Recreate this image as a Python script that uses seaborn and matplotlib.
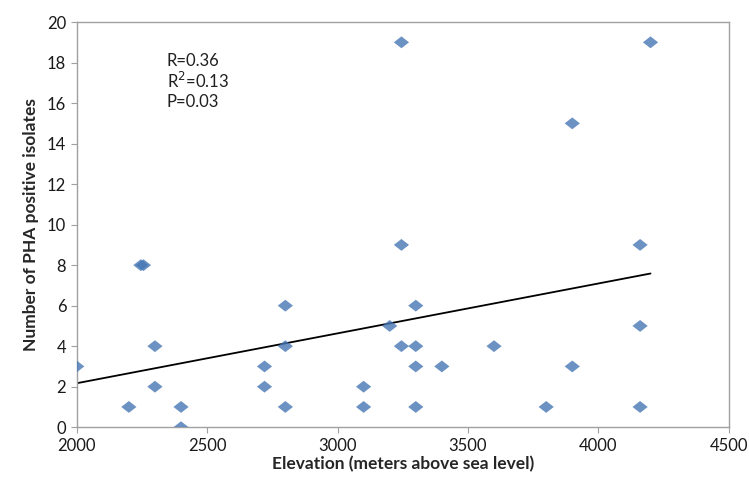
import matplotlib
matplotlib.use("Agg")
import matplotlib.pyplot as plt
import seaborn as sns
import numpy as np
import pandas as pd

elevation = [2000, 2200, 2246, 2256, 2300, 2300, 2400, 2400, 2720, 2720,
             2800, 2800, 2800, 3100, 3100, 3200, 3245, 3245, 3245,
             3300, 3300, 3300, 3300, 3400, 3600, 3800, 3900, 3900,
             4160, 4160, 4160, 4200]
isolates = [3, 1, 8, 8, 4, 2, 1, 0, 3, 2,
            6, 4, 1, 2, 1, 5, 19, 9, 4,
            6, 4, 3, 1, 3, 4, 1, 15, 3,
            9, 5, 1, 19]
x_ticks = [2000, 2500, 3000, 3500, 4000, 4500]
y_ticks = list(range(0, 21, 2))
stats_text = ["R=0.36", "R$^2$=0.13", "P=0.03"]

df = pd.DataFrame({"Elevation": elevation, "Isolates": isolates})

sns.set_theme(style="white")
plt.rcParams['font.family'] = ['Lato', 'DejaVu Sans']

fig = plt.figure(figsize=(7.49, 4.8), dpi=100)
ax = fig.add_axes([0.1024, 0.110, 0.8706, 0.844])

diamond = [(-1, 0), (0, 0.78), (1, 0), (0, -0.78), (-1, 0)]
sns.regplot(data=df, x="Elevation", y="Isolates", ax=ax, ci=None,
            marker=diamond,
            scatter_kws=dict(s=120, color="#4677B4", edgecolor="none", zorder=3),
            line_kws=dict(color="black", lw=1.3, zorder=2))

ax.set_xlim(2000, 4500)
ax.set_ylim(0, 20)
ax.set_xticks(x_ticks)
ax.set_yticks(y_ticks)
ax.tick_params(axis="both", labelsize=12, colors="#A0A0A0", length=4,
               width=0.8, direction="out", bottom=True, left=True)
for lab in ax.get_xticklabels() + ax.get_yticklabels():
    lab.set_color("#1a1a1a")
for s in ax.spines.values():
    s.set_color("#A0A0A0")
    s.set_linewidth(1.0)
    s.set_visible(True)

ax.set_xlabel("Elevation (meters above sea level)", fontsize=12.5,
              fontweight="bold", labelpad=2)
ax.set_ylabel("Number of PHA positive isolates", fontsize=12.5,
              fontweight="bold", labelpad=6)

for i, t in enumerate(stats_text):
    ax.text(0.138, 0.905 - i * 0.051, t, transform=ax.transAxes,
            fontsize=12, color="#202020", va="center", ha="left")

fig.savefig("out.png", dpi=100)
